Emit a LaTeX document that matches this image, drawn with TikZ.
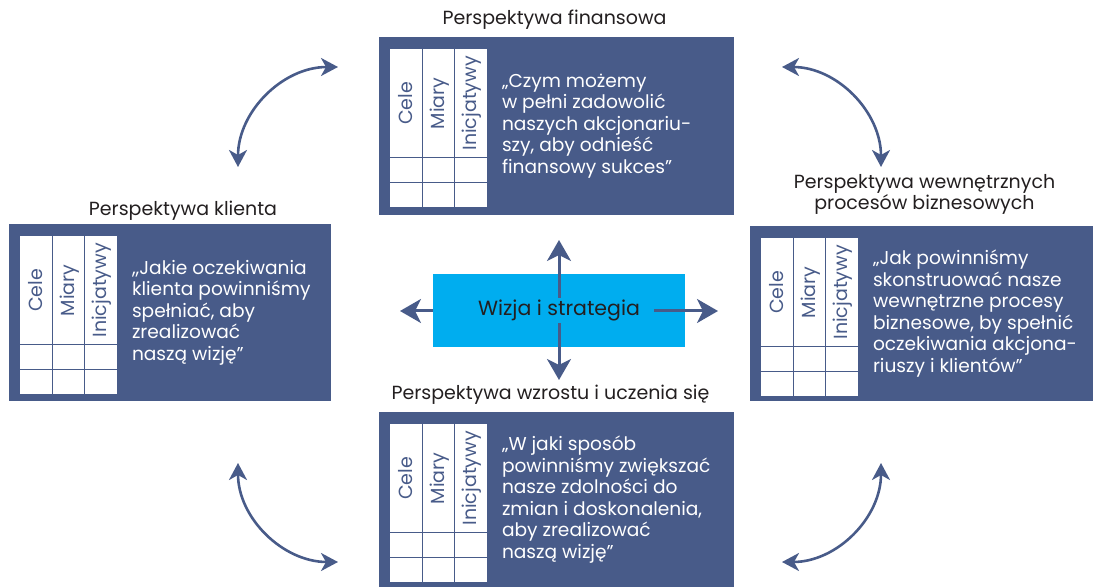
\documentclass[tikz,border=0pt]{standalone}
\usepackage{fontspec}
\setmainfont{Poppins}
\usetikzlibrary{arrows.meta,calc,positioning}

\definecolor{ciemny}{RGB}{72,91,137}
\definecolor{blekit}{RGB}{0,173,239}
\definecolor{czern}{RGB}{35,31,32}

% tabela Cele / Miary / Inicjatywy w lewym gornym rogu pola
\newcommand\tabela[1]{%
    \begin{scope}[shift={($(#1.north west)+(11,-12)$)}]
        \fill[white] (0,0) rectangle (97,-158);
        \foreach \k in {32.3,64.7} {
            \draw[siatka] (\k,0) -- (\k,-158);
        }
        \foreach \w in {-109,-133.5} {
            \draw[siatka] (0,\w) -- (97,\w);
        }
        \foreach \n/\t in {0/Cele,1/Miary,2/Inicjatywy} {
            \node[naglowek] (#1-k\n) at (16.2+32.3*\n,-54.5) {\t};
        }
    \end{scope}}

\begin{document}
\begin{tikzpicture}[x=1pt,y=1pt,
    pole/.style={fill=ciemny,inner sep=0pt},
    tresc/.style={text=white,align=left,anchor=west,inner sep=0pt,
        font=\fontsize{18.6}{21.5}\selectfont},
    tytul/.style={text=czern,align=center,inner sep=0pt,
        font=\fontsize{19}{17}\selectfont},
    naglowek/.style={text=ciemny,rotate=90,inner sep=0pt,text height=14pt,
        text depth=2pt,font=\fontsize{19}{19}\selectfont},
    siatka/.style={ciemny,line width=1.2pt},
    strzalka/.style={ciemny,line width=3pt,-{Stealth[length=21pt,width=24pt,inset=6pt]}},
    luk/.style={ciemny,line width=2.6pt,>={Stealth[length=17pt,width=18pt,inset=5pt]},<->}]

    \useasboundingbox (0,0) rectangle (1097,587);

    % cztery perspektywy
    \node[pole,minimum width=355pt,minimum height=178pt] (fin) at (556.5,461) {};
    \node[pole,minimum width=322pt,minimum height=177pt] (kli) at (170,274.5) {};
    \node[pole,minimum width=343pt,minimum height=175pt] (wew) at (921.5,273.5) {};
    \node[pole,minimum width=355pt,minimum height=175pt] (wzr) at (556.5,87.5) {};

    \foreach \p in {fin,kli,wew,wzr} {
        \tabela{\p}
    }

    % pytania
    \node[tresc] (fin-t) at ($(fin.west)+(123,0)$) {„Czym możemy\\w pełni zadowolić\\naszych akcjonariu-\\szy, aby odnieść\\finansowy sukces”};
    \node[tresc] (kli-t) at ($(kli.west)+(123,0)$) {,{},Jakie oczekiwania\\klienta powinniśmy\\spełniać, aby\\zrealizować\\naszą wizję”};
    \node[tresc] (wew-t) at ($(wew.west)+(123,0)$) {„Jak powinniśmy\\skonstruować nasze\\wewnętrzne procesy\\biznesowe, by spełnić\\oczekiwania akcjona-\\riuszy i klientów”};
    \node[tresc] (wzr-t) at ($(wzr.west)+(123,0)$) {„W jaki sposób\\powinniśmy zwiększać\\nasze zdolności do\\zmian i doskonalenia,\\aby zrealizować\\naszą wizję”};

    % tytuly
    \node[tytul,anchor=base] (fin-n) at ($(fin.north)+(-2,12)$) {Perspektywa finansowa};
    \node[tytul,anchor=base] (kli-n) at ($(kli.north)+(13,8)$) {Perspektywa klienta};
    \node[tytul,anchor=south] (wew-n) at ($(wew.north)+(3,11)$) {Perspektywa wewnętrznych\\procesów biznesowych};
    \node[tytul,anchor=base] (wzr-n) at ($(wzr.north)+(-6,12)$) {Perspektywa wzrostu i uczenia się};

    % wizja i strategia
    \node[fill=blekit,minimum width=252pt,minimum height=73pt,inner sep=0pt] (wiz) at (559,276.5) {};
    \node[text=czern,inner xsep=14pt,inner ysep=2pt,font=\fontsize{20.5}{20.5}\selectfont] (napis) at (wiz) {Wizja i strategia};

    \coordinate (gora) at (559,347);
    \coordinate (dol) at (559,207);
    \coordinate (lewo) at (400,276);
    \coordinate (prawo) at (718,276);

    \draw[strzalka] (napis.north) -- (gora);
    \draw[strzalka] (napis.south) -- (dol);
    \draw[strzalka] (napis.east |- prawo) -- (prawo);
    \draw[strzalka] (wiz.west |- lewo) -- (lewo);

    % luki miedzy perspektywami
    \foreach \n/\xa/\ya/\xb/\yb/\o/\i in {lg/238/420/338/520/90/180,
        pg/782/520/881/420/0/90,
        ld/238/124/338/25/-90/180,
        pd/881/124/782/25/-90/0} {
        \coordinate (\n-a) at (\xa,\ya);
        \coordinate (\n-b) at (\xb,\yb);
        \draw[luk] (\n-a) to[out=\o,in=\i] (\n-b);
    }

\end{tikzpicture}
\end{document}
